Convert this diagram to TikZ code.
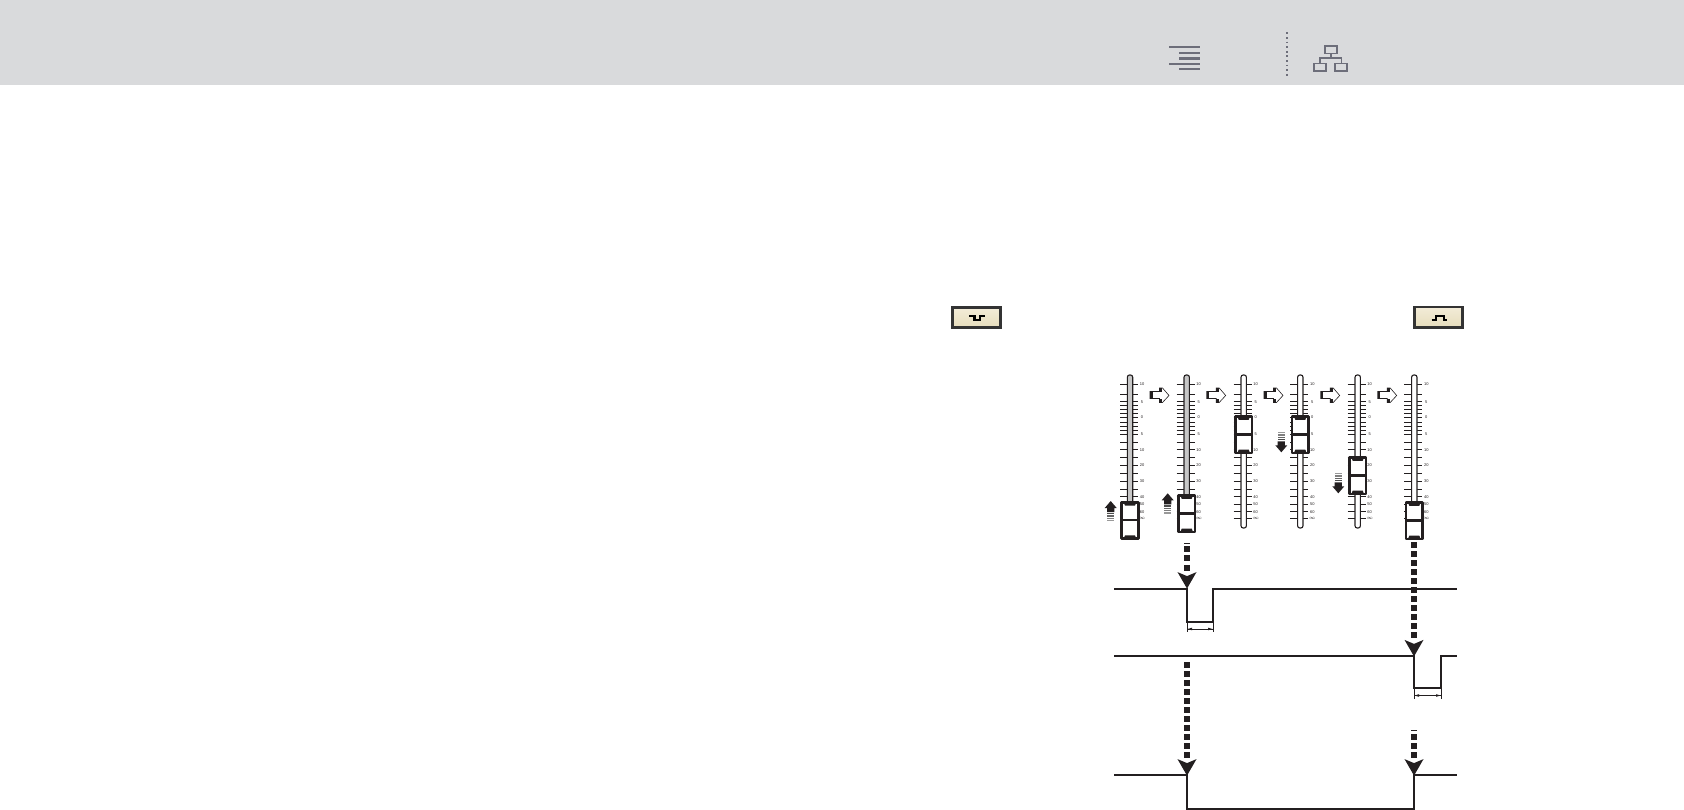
\documentclass[tikz,border=0pt]{standalone}
\usepackage{fontspec}
\setmainfont{Liberation Sans}
\usetikzlibrary{calc}
\definecolor{band}{HTML}{D9DADC}
\definecolor{icon}{HTML}{6D6E7A}
\definecolor{ink}{HTML}{231F20}
\definecolor{creamA}{HTML}{F3ECD8}
\definecolor{creamB}{HTML}{E6DDBC}
\tikzset{
  sig/.style={draw=ink,line width=2.1pt,line join=miter},
  dim/.style={draw=ink,line width=0.6pt},
  tick/.style={draw=ink,line width=0.7pt},
  lab/.style={font=\fontsize{4}{5}\selectfont,text=ink,inner sep=0pt},
  ic/.style={draw=icon,line width=1.9pt},
  btn/.style={draw=black!80,line width=2.6pt,top color=creamA,bottom color=creamB},
  sym/.style={draw=black,line width=2.1pt},
}
% fader: x, cap top, slot fill
\newcommand{\myfader}[3]{%
  \foreach \ty in {384.3,394.3,401.7,405.7,409.3,413.3,417.3,422.3,426.3,430.3,434.3,442,449.7,457.3,465.3,473.7,481.3,489.3,496.7,504.3,511.7,518.7}{
    \draw[tick] (#1-10,\ty) -- (#1-2,\ty);
    \draw[tick] (#1+2,\ty) -- (#1+8,\ty);
  }
  \foreach \ty/\tl in {384.3/10,401.7/5,417.3/0,434.3/5,449.7/10,465.3/20,481.3/30,496.7/40,504.3/50,511.7/60,518.7/$\infty$}{
    \node[lab] at (#1+12,\ty) {\tl};
  }
  \draw[draw=ink,line width=1.1pt,fill=#3,rounded corners=2.2pt] (#1-2.7,375) rectangle (#1+2.7,528);
  \draw[draw=ink,line width=2.6pt,fill=white,line join=round] (#1-8.3,#2+0.3) rectangle (#1+8.3,#2+36.7);
  \draw[draw=ink,line width=2.2pt] (#1-8.3,#2+18.3) -- (#1+8.3,#2+18.3);
  \fill[ink] (#1-6,#2+1) -- (#1+6,#2+1) -- (#1+5,#2+3.6) -- (#1-5,#2+3.6) -- cycle;
  \fill[ink] (#1-6,#2+36) -- (#1+6,#2+36) -- (#1+5,#2+33.4) -- (#1-5,#2+33.4) -- cycle;
}
% open arrow: left x
\newcommand{\myopen}[1]{%
  \draw[draw=ink,line width=0.6pt,fill=white] (#1,391.5) -- (#1+9.5,391.5) -- (#1+9.5,388) -- (#1+12.5,388) -- (#1+19,395.5) -- (#1+12.5,402.5) -- (#1+9.5,402.5) -- (#1+9.5,398.5) -- (#1,398.5) -- cycle;
  \fill[ink] (#1,391.5) rectangle (#1+2.6,398.5);
  \fill[ink] (#1+9.5,388) rectangle (#1+12,391.5);
  \fill[ink] (#1+9.5,398.5) rectangle (#1+12,402.5);
}
% small striped arrow up: x, tip y
\newcommand{\myup}[2]{%
  \fill[ink] (#1,#2) -- (#1+6,#2+7) -- (#1+3.6,#2+7) -- (#1+3.6,#2+11) -- (#1-3.6,#2+11) -- (#1-3.6,#2+7) -- (#1-6,#2+7) -- cycle;
  \foreach \k/\c in {12/70,14.3/60,16.6/50,18.9/40}{
    \fill[black!\c] (#1-3.6,#2+\k) rectangle (#1+3.6,#2+\k+1.3);
  }
}
% small striped arrow down: x, tip y
\newcommand{\mydown}[2]{%
  \fill[ink] (#1,#2) -- (#1+6,#2-7) -- (#1+3.6,#2-7) -- (#1+3.6,#2-11) -- (#1-3.6,#2-11) -- (#1-3.6,#2-7) -- (#1-6,#2-7) -- cycle;
  \foreach \k/\c in {12/70,14.3/60,16.6/50,18.9/40}{
    \fill[black!\c] (#1-3.6,#2-\k) rectangle (#1+3.6,#2-\k-1.3);
  }
}
% heavy dashes: x, list of top y
\newcommand{\mysq}[2]{%
  \foreach \sy in {#2}{\fill[ink] (#1-3,\sy) rectangle (#1+3,\sy+6);}
}
% arrowhead: x, tip y
\newcommand{\myhead}[2]{%
  \fill[ink] (#1,#2) -- (#1-9.5,#2-16.5) -- (#1,#2-12.5) -- (#1+9.5,#2-16.5) -- cycle;
}
% dimension
\newcommand{\mydim}[3]{%
  \draw[dim] (#1,#3) -- (#1,#3+10);
  \draw[dim] (#2,#3) -- (#2,#3+10);
  \draw[dim] (#1+0.5,#3+7) -- (#2-0.5,#3+7);
  \fill[ink] (#1+0.5,#3+7) -- (#1+5,#3+5.7) -- (#1+5,#3+8.3) -- cycle;
  \fill[ink] (#2-0.5,#3+7) -- (#2-5,#3+5.7) -- (#2-5,#3+8.3) -- cycle;
}
\begin{document}
\begin{tikzpicture}[x=1pt,y=-1pt]
\useasboundingbox (0,0) rectangle (1684,810);
% header band
\fill[band] (0,0) rectangle (1684,85);
\draw[ic] (1169.3,46.7) -- (1200,46.7);
\draw[ic] (1179.3,52.7) -- (1200,52.7);
\draw[ic,line width=3pt] (1179.3,58.3) -- (1200,58.3);
\draw[ic] (1169.3,63.7) -- (1200,63.7);
\draw[ic] (1179.3,69) -- (1200,69);
\draw[draw=icon,line width=1.7pt,dash pattern=on 1.8pt off 2.8pt] (1286.7,32.5) -- (1286.7,76);
\draw[ic] (1325.2,46) rectangle (1337.2,53.5);
\draw[ic] (1331.2,53.5) -- (1331.2,58.3);
\draw[ic] (1320,63.5) -- (1320,58.3) -- (1341.5,58.3) -- (1341.5,63.5);
\draw[ic] (1314.3,63.5) rectangle (1326.3,70.8);
\draw[ic] (1335.3,63.5) rectangle (1347,70.8);
% buttons
\draw[btn] (952.7,307.7) rectangle (1000.7,327.3);
\draw[sym] (969.3,316) -- (974.5,316) -- (974.5,320) -- (980,320) -- (980,316) -- (984.5,316);
\draw[btn] (1414.3,306.9) rectangle (1462.3,327.3);
\draw[sym] (1431.7,320) -- (1435.7,320) -- (1435.7,316) -- (1444.3,316) -- (1444.3,320) -- (1446.7,320);
% faders
\myfader{1130}{502}{black!22}
\myfader{1186.7}{495.2}{black!22}
\myfader{1243.7}{416.2}{white}
\myfader{1300.3}{416.2}{white}
\myfader{1357.7}{457.2}{white}
\myfader{1414.3}{502.2}{white}
\myopen{1150}
\myopen{1206.7}
\myopen{1264}
\myopen{1320.7}
\myopen{1377.7}
\myup{1110.7}{501}
\myup{1167.7}{493.3}
\mydown{1281.3}{452.3}
\mydown{1338.3}{493.3}
% signal lines
\draw[sig] (1114,588.6) -- (1187,588.6) -- (1187,621.7) -- (1213,621.7) -- (1213,588.6) -- (1456.7,588.6);
\draw[sig] (1114,656.4) -- (1414,656.4) -- (1414,688.3) -- (1441,688.3) -- (1441,656.4) -- (1456.7,656.4);
\draw[sig] (1114,775.4) -- (1187,775.4) -- (1187,808.7) -- (1414,808.7) -- (1414,775.4) -- (1456.7,775.4);
\mydim{1187}{1213}{622}
\mydim{1414}{1441}{688.5}
% dashed arrows
\fill[ink] (1184,543) rectangle (1190,543.7);
\mysq{1187}{546,555,564.5}
\myhead{1187}{588.6}
\mysq{1187}{662.3,671.3,680.3,689.3,698.3,707.3,716.3,725.3,734.3,743.3,752.3}
\myhead{1187}{775.6}
\mysq{1414}{542,551,560,569,578,587,596,605,614,623,632}
\myhead{1414}{656.4}
\fill[ink] (1411,730) rectangle (1417,730.7);
\mysq{1414}{734,743.2,752.3}
\myhead{1414}{775.6}
\end{tikzpicture}
\end{document}
